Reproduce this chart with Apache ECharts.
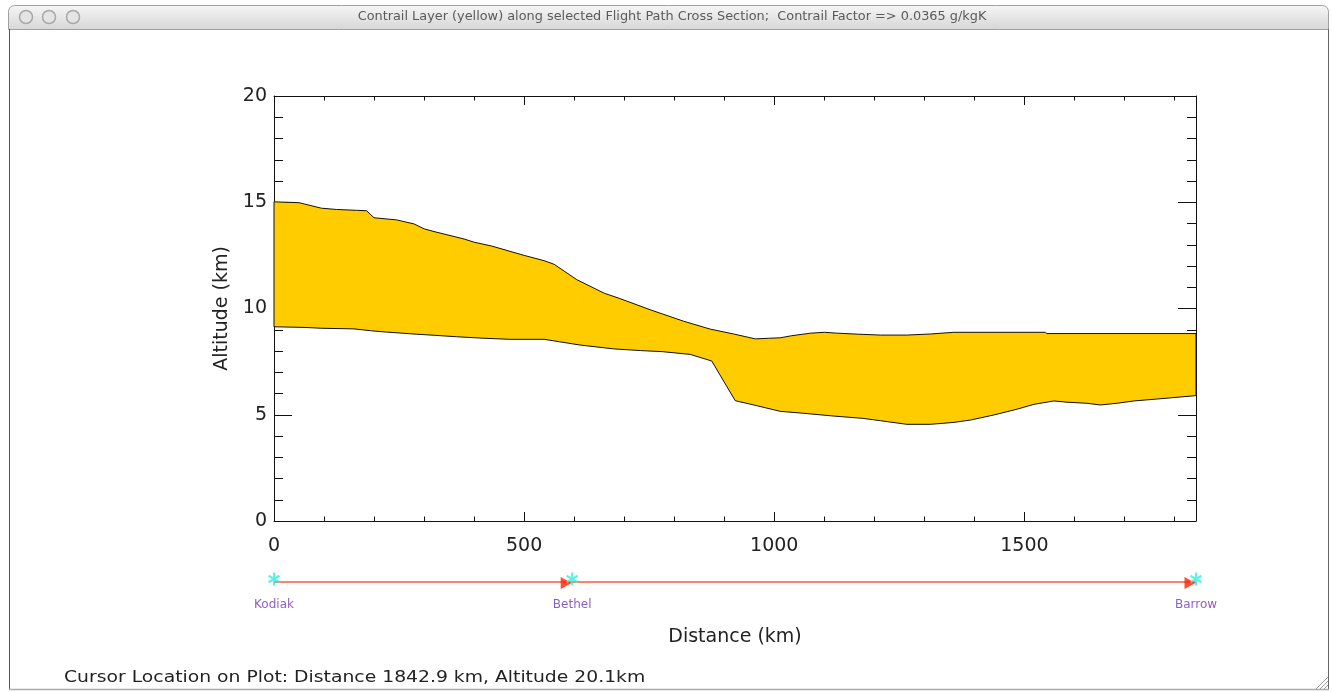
<!DOCTYPE html>
<html>
<head>
<meta charset="utf-8">
<script src="https://cdn.jsdelivr.net/npm/echarts@6.0.0/dist/echarts.min.js"></script>
<style>
html,body{margin:0;padding:0;background:#fff;}
#chart{width:1332px;height:692px;}
</style>
</head>
<body>
<div id="chart"></div>
<script>
// ---- data (distance km, altitude km) ----
const upperDist = [0,50,95,125,165,185,200,245,280,300,320,380,400,435,500,540,560,605,660,690,752,819,872,919,962,989,1012,1035,1073,1100,1125,1169,1212,1265,1312,1359,1542,1545,1843];
const upperAlt  = [15.02,14.98,14.72,14.66,14.62,14.60,14.27,14.17,13.98,13.75,13.62,13.27,13.12,12.94,12.50,12.25,12.08,11.36,10.72,10.48,9.94,9.40,9.03,8.80,8.57,8.60,8.62,8.72,8.84,8.88,8.84,8.79,8.75,8.75,8.80,8.88,8.88,8.82,8.82];
const lowerDist = [0,60,95,160,195,225,285,320,365,420,472,540,612,679,732,776,832,875,922,959,1012,1058,1118,1177,1212,1265,1312,1359,1392,1439,1485,1519,1559,1585,1625,1652,1685,1719,1765,1843];
const lowerAlt  = [9.14,9.11,9.07,9.04,8.95,8.89,8.79,8.74,8.67,8.60,8.55,8.55,8.28,8.10,8.02,7.97,7.84,7.53,5.66,5.46,5.16,5.07,4.94,4.83,4.72,4.55,4.55,4.64,4.75,4.99,5.26,5.49,5.65,5.59,5.54,5.46,5.54,5.65,5.74,5.90];
const cityNames = ['Kodiak','Bethel','Barrow'];
const cityDist  = [0,596,1843];
const xMax = 1843;
const yMax = 20;
const titleText = 'Contrail Layer (yellow) along selected Flight Path Cross Section;  Contrail Factor => 0.0365 g/kgK';
const cursorText = 'Cursor Location on Plot: Distance 1842.9 km, Altitude 20.1km';

const upper = upperDist.map((d,i)=>[d,upperAlt[i]]);
const lower = lowerDist.map((d,i)=>[d,lowerAlt[i]]);

const FONT = '"DejaVu Sans", sans-serif';
const axisColor = '#111';
const txtColor = '#222';
const lineStyle = {color: axisColor, width: 1};

const asterisk = 'path://M1,-6 L1,6 L-1,6 L-1,-6 Z M5.7,-2.13 L-4.7,3.87 L-5.7,2.13 L4.7,-3.87 Z M5.7,2.13 L4.7,3.87 L-5.7,-2.13 L-4.7,-3.87 Z';

function xAx(pos, interval, len, labels, extra){
  return Object.assign({
    gridIndex: 0, type: 'value', min: 0, max: xMax, interval: interval, position: pos,
    axisLine: {show: true, onZero: false, lineStyle: lineStyle},
    axisTick: {show: true, inside: true, length: len, lineStyle: lineStyle},
    axisLabel: {show: labels, showMaxLabel: false, fontSize: 19, fontFamily: FONT, color: txtColor, margin: 16,
                formatter: v => String(v)},
    splitLine: {show: false}
  }, extra || {});
}
function yAx(pos, labels, extra){
  return Object.assign({
    gridIndex: 0, type: 'value', min: 0, max: yMax, interval: 5, position: pos,
    axisLine: {show: true, onZero: false, lineStyle: lineStyle},
    axisTick: {show: true, inside: true, length: 18, lineStyle: lineStyle},
    minorTick: {show: true, splitNumber: 5, length: 9, lineStyle: lineStyle},
    axisLabel: {show: labels, fontSize: 19, fontFamily: FONT, color: txtColor, margin: 7, formatter: v => String(v)},
    splitLine: {show: false}, minorSplitLine: {show: false}
  }, extra || {});
}

const chart = echarts.init(document.getElementById('chart'), null, {renderer: 'canvas'});
chart.setOption({
  animation: false,
  backgroundColor: '#fff',
  grid: [
    {left: 274, top: 96, width: 922, height: 425},
    {left: 274, top: 572, width: 922, height: 20}
  ],
  xAxis: [
    xAx('bottom', 500, 9, true, {name: 'Distance (km)', nameLocation: 'middle', nameGap: 107,
         nameTextStyle: {fontSize: 19, fontFamily: FONT, color: txtColor}}),
    xAx('bottom', 100, 4.5, false, {axisLine: {show: false, onZero: false}}),
    xAx('top', 500, 9, false),
    xAx('top', 100, 4.5, false, {axisLine: {show: false, onZero: false}}),
    {gridIndex: 1, type: 'value', min: 0, max: xMax, show: false}
  ],
  yAxis: [
    yAx('left', true, {name: 'Altitude (km)', nameLocation: 'middle', nameGap: 42, nameRotate: 90,
         nameTextStyle: {fontSize: 19, fontFamily: FONT, color: txtColor}}),
    yAx('right', false),
    {gridIndex: 1, type: 'value', min: 0, max: 1, show: false}
  ],
  series: [
    {
      type: 'custom', xAxisIndex: 0, yAxisIndex: 0,
      data: [[0, 0]],
      renderItem: function(params, api){
        const pts = upper.map(p => api.coord(p)).concat(lower.slice().reverse().map(p => api.coord(p)));
        return {type: 'polygon', shape: {points: pts}, style: {fill: '#ffcc00', stroke: '#111', lineWidth: 1}};
      },
      z: 3
    },
    {
      type: 'line', xAxisIndex: 4, yAxisIndex: 2,
      data: cityDist.map(d => [d, 0.5]), symbol: 'none',
      lineStyle: {color: '#ff5a3c', width: 1.5}, z: 3
    },
    {
      type: 'scatter', xAxisIndex: 4, yAxisIndex: 2,
      data: cityDist.slice(1).map(d => [d, 0.5]),
      symbol: 'path://M0,0 L10,5 L0,10 Z', symbolSize: [11, 12], symbolOffset: [-6, 1],
      itemStyle: {color: '#ff2200'}, z: 4
    },
    {
      type: 'scatter', xAxisIndex: 4, yAxisIndex: 2,
      data: cityDist.map((d, i) => ({name: cityNames[i], value: [d, 0.5]})),
      symbol: asterisk, symbolSize: [12, 13], symbolOffset: [0, -3],
      itemStyle: {color: '#33eedd'},
      label: {show: true, formatter: '{b}', position: 'inside', offset: [0, 26],
              fontSize: 12, fontFamily: FONT, color: '#7432b8'},
      z: 5
    }
  ],
  graphic: [
    {type: 'rect', shape: {x: 8.5, y: 5.5, width: 1320, height: 24, r: [6, 6, 0, 0]},
     style: {fill: new echarts.graphic.LinearGradient(0, 0, 0, 1, [
       {offset: 0, color: '#f6f6f6'}, {offset: 0.5, color: '#e6e6e6'}, {offset: 1, color: '#d6d6d6'}]),
       stroke: '#a0a0a0', lineWidth: 1}, z: 10},
    {type: 'circle', shape: {cx: 26, cy: 17, r: 6.5}, style: {fill: '#e4e4e4', stroke: '#a8a8a8', lineWidth: 1.5}, z: 11},
    {type: 'circle', shape: {cx: 49, cy: 17, r: 6.5}, style: {fill: '#e4e4e4', stroke: '#a8a8a8', lineWidth: 1.5}, z: 11},
    {type: 'circle', shape: {cx: 73, cy: 17, r: 6.5}, style: {fill: '#e4e4e4', stroke: '#a8a8a8', lineWidth: 1.5}, z: 11},
    {type: 'text', x: 672, y: 17, z: 11, scaleX: 1.1,
     style: {text: titleText, font: '13px "Liberation Sans Narrow", "DejaVu Sans Condensed", sans-serif',
             fill: '#5a5a5a', align: 'center', verticalAlign: 'middle', textAlign: 'center', textVerticalAlign: 'middle'}},
    {type: 'line', shape: {x1: 9.5, y1: 29, x2: 9.5, y2: 689}, style: {stroke: '#555', lineWidth: 1}, z: 10},
    {type: 'line', shape: {x1: 1328.5, y1: 29, x2: 1328.5, y2: 689}, style: {stroke: '#666', lineWidth: 1}, z: 10},
    {type: 'line', shape: {x1: 9, y1: 689.5, x2: 1329, y2: 689.5}, style: {stroke: '#aaa', lineWidth: 1.5}, z: 10},
    {type: 'line', shape: {x1: 1316, y1: 689, x2: 1328, y2: 677}, style: {stroke: '#999', lineWidth: 1}, z: 11},
    {type: 'line', shape: {x1: 1320, y1: 689, x2: 1328, y2: 681}, style: {stroke: '#999', lineWidth: 1}, z: 11},
    {type: 'line', shape: {x1: 1324, y1: 689, x2: 1328, y2: 685}, style: {stroke: '#999', lineWidth: 1}, z: 11},
    {type: 'text', x: 64, y: 678, z: 11, scaleX: 1.138,
     style: {text: cursorText, font: '16.5px "DejaVu Sans", sans-serif', fill: txtColor,
             align: 'left', verticalAlign: 'middle', textAlign: 'left', textVerticalAlign: 'middle'}}
  ]
});
</script>
</body>
</html>
